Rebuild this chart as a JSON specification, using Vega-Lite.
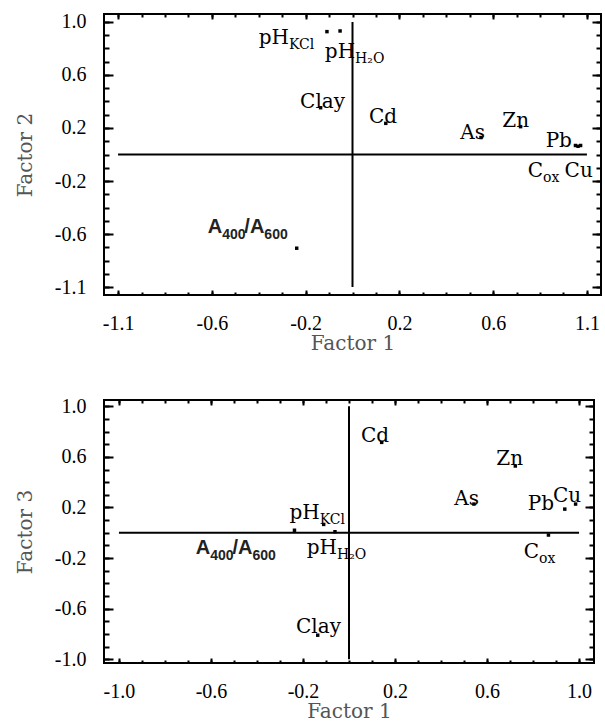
{
  "$schema": "https://vega.github.io/schema/vega-lite/v6.json",
  "background": "white",
  "padding": {"left": 14, "top": 10, "right": 0, "bottom": 0},
  "spacing": 41,
  "datasets": {
    "pts12": [
      {"var": "pH_KCl", "x": -0.109, "y": 0.927},
      {"var": "pH_H2O", "x": -0.053, "y": 0.932},
      {"var": "Clay", "x": -0.136, "y": 0.353},
      {"var": "Cd", "x": 0.142, "y": 0.235},
      {"var": "As", "x": 0.548, "y": 0.128},
      {"var": "Zn", "x": 0.717, "y": 0.21},
      {"var": "Pb", "x": 0.951, "y": 0.068},
      {"var": "Cu", "x": 0.973, "y": 0.068},
      {"var": "Cox", "x": 0.962, "y": 0.062},
      {"var": "A400/A600", "x": -0.238, "y": -0.707}
    ],
    "lab12": [
      {"var": "pH_KCl", "lx": -0.271, "ly": 0.835, "base": "pH", "sub": "KCl"},
      {"var": "pH_H2O", "lx": 0.011, "ly": 0.729, "base": "pH", "sub": "H₂O"},
      {"var": "Clay", "lx": -0.032, "ly": 0.353, "base": "Clay", "sub": ""},
      {"var": "Cd", "lx": 0.19, "ly": 0.24, "base": "Cd", "sub": ""},
      {"var": "As", "lx": 0.565, "ly": 0.12, "base": "As", "sub": ""},
      {"var": "Zn", "lx": 0.753, "ly": 0.21, "base": "Zn", "sub": ""},
      {"var": "Pb", "lx": 0.936, "ly": 0.053, "base": "Pb", "sub": ""},
      {"var": "Cu", "lx": 1.025, "ly": -0.173, "base": "Cu", "sub": ""},
      {"var": "Cox", "lx": 0.813, "ly": -0.173, "base": "C", "sub": "ox"},
      {"var": "A400/A600", "lx": -0.556, "ly": -0.594, "base": "A", "sub": "400"},
      {"var": "A400/A600", "lx": -0.376, "ly": -0.594, "base": "/A", "sub": "600"}
    ],
    "pts13": [
      {"var": "Cd", "x": 0.142, "y": 0.715},
      {"var": "Zn", "x": 0.723, "y": 0.528},
      {"var": "As", "x": 0.543, "y": 0.227},
      {"var": "Pb", "x": 0.938, "y": 0.187},
      {"var": "Cu", "x": 0.985, "y": 0.227},
      {"var": "Cox", "x": 0.867, "y": -0.018},
      {"var": "pH_KCl", "x": -0.11, "y": 0.066},
      {"var": "pH_H2O", "x": -0.061, "y": 0.008},
      {"var": "Clay", "x": -0.136, "y": -0.81},
      {"var": "A400/A600", "x": -0.237, "y": 0.02}
    ],
    "lab13": [
      {"var": "Cd", "lx": 0.174, "ly": 0.72, "base": "Cd", "sub": ""},
      {"var": "Zn", "lx": 0.757, "ly": 0.536, "base": "Zn", "sub": ""},
      {"var": "As", "lx": 0.565, "ly": 0.219, "base": "As", "sub": ""},
      {"var": "Pb", "lx": 0.891, "ly": 0.18, "base": "Pb", "sub": ""},
      {"var": "Cu", "lx": 1.009, "ly": 0.245, "base": "Cu", "sub": ""},
      {"var": "Cox", "lx": 0.826, "ly": -0.2, "base": "C", "sub": "ox"},
      {"var": "pH_KCl", "lx": -0.127, "ly": 0.106, "base": "pH", "sub": "KCl"},
      {"var": "pH_H2O", "lx": -0.052, "ly": -0.17, "base": "pH", "sub": "H₂O"},
      {"var": "Clay", "lx": -0.035, "ly": -0.79, "base": "Clay", "sub": ""},
      {"var": "A400/A600", "lx": -0.603, "ly": -0.17, "base": "A", "sub": "400"},
      {"var": "A400/A600", "lx": -0.42, "ly": -0.17, "base": "/A", "sub": "600"}
    ]
  },
  "vconcat": [
    {
      "width": 497,
      "height": 281,
      "resolve": {"axis": {"x": "independent", "y": "independent"}},
      "layer": [
        {
          "data": {"name": "pts12"},
          "mark": {"type": "point", "shape": "square", "filled": true, "size": 12, "color": "black", "opacity": 1},
          "encoding": {
            "x": {"field": "x", "type": "quantitative", "scale": {"domain": [-1.06, 1.06], "nice": false, "zero": false},
              "axis": {"orient": "bottom", "values": [-1, -0.6, -0.2, 0.2, 0.6, 1], "tickSize": -5, "labelPadding": 23, "title": "Factor 1", "titlePadding": 0,
                "labelExpr": "datum.value == 1 ? '1.1' : datum.value == -1 ? '-1.1' : (datum.value < 0 ? '-' : '') + format(abs(datum.value), '.1f')"}},
            "y": {"field": "y", "type": "quantitative", "scale": {"domain": [-1.06, 1.06], "nice": false, "zero": false},
              "axis": {"orient": "left", "values": [-1, -0.6, -0.2, 0.2, 0.6, 1], "tickSize": -9, "labelPadding": 27, "title": "Factor 2", "titlePadding": 19,
                "labelExpr": "datum.value == -1 ? '-1.1' : (datum.value < 0 ? '-' : '') + format(abs(datum.value), '.1f')"}}
          }
        },
        {
          "data": {"values": [{}]},
          "mark": {"type": "rule", "color": "black", "strokeWidth": 2},
          "encoding": {
            "x": {"datum": -1, "type": "quantitative", "scale": {"domain": [-1.06, 1.06], "nice": false, "zero": false},
              "axis": {"orient": "top", "values": [-1, -0.6, -0.2, 0.2, 0.6, 1], "tickSize": -5, "labels": false, "title": null}},
            "x2": {"datum": 1},
            "y": {"datum": 0, "type": "quantitative", "scale": {"domain": [-1.06, 1.06], "nice": false, "zero": false},
              "axis": {"orient": "right", "values": [-1, -0.6, -0.2, 0.2, 0.6, 1], "tickSize": -9, "labels": false, "title": null}}
          }
        },
        {
          "data": {"values": [{}]},
          "mark": {"type": "rule", "color": "black", "strokeWidth": 2},
          "encoding": {
            "x": {"datum": 0, "type": "quantitative", "scale": {"domain": [-1.06, 1.06], "nice": false, "zero": false},
              "axis": {"orient": "bottom", "values": [-1, -0.9, -0.8, -0.7, -0.6, -0.5, -0.4, -0.3, -0.2, -0.1, 0, 0.1, 0.2, 0.3, 0.4, 0.5, 0.6, 0.7, 0.8, 0.9, 1], "tickSize": -3, "labels": false, "title": null}},
            "y": {"datum": -1, "type": "quantitative", "scale": {"domain": [-1.06, 1.06], "nice": false, "zero": false},
              "axis": {"orient": "left", "values": [-1, -0.9, -0.8, -0.7, -0.6, -0.5, -0.4, -0.3, -0.2, -0.1, 0, 0.1, 0.2, 0.3, 0.4, 0.5, 0.6, 0.7, 0.8, 0.9, 1], "tickSize": -5, "labels": false, "title": null}},
            "y2": {"datum": 1}
          }
        },
        {
          "data": {"name": "lab12"},
          "transform": [{"filter": "datum.var != 'A400/A600'"}],
          "mark": {"type": "text", "align": "right", "baseline": "alphabetic", "font": "DejaVu Serif", "fontSize": 20, "color": "black"},
          "encoding": {
            "x": {"field": "lx", "type": "quantitative", "scale": {"domain": [-1.06, 1.06], "nice": false, "zero": false},
              "axis": {"orient": "top", "values": [-1, -0.9, -0.8, -0.7, -0.6, -0.5, -0.4, -0.3, -0.2, -0.1, 0, 0.1, 0.2, 0.3, 0.4, 0.5, 0.6, 0.7, 0.8, 0.9, 1], "tickSize": -3, "labels": false, "title": null}},
            "y": {"field": "ly", "type": "quantitative", "scale": {"domain": [-1.06, 1.06], "nice": false, "zero": false},
              "axis": {"orient": "right", "values": [-1, -0.9, -0.8, -0.7, -0.6, -0.5, -0.4, -0.3, -0.2, -0.1, 0, 0.1, 0.2, 0.3, 0.4, 0.5, 0.6, 0.7, 0.8, 0.9, 1], "tickSize": -5, "labels": false, "title": null}},
            "text": {"field": "base"}
          }
        },
        {
          "data": {"name": "lab12"},
          "transform": [{"filter": "datum.sub != '' && datum.var != 'A400/A600'"}],
          "mark": {"type": "text", "align": "left", "baseline": "alphabetic", "dy": 5, "font": "DejaVu Serif", "fontSize": 14, "color": "black"},
          "encoding": {
            "x": {"field": "lx", "type": "quantitative", "scale": {"domain": [-1.06, 1.06], "nice": false, "zero": false}, "axis": null},
            "y": {"field": "ly", "type": "quantitative", "scale": {"domain": [-1.06, 1.06], "nice": false, "zero": false}, "axis": null},
            "text": {"field": "sub"}
          }
        },
        {
          "data": {"name": "lab12"},
          "transform": [{"filter": "datum.var == 'A400/A600'"}],
          "mark": {"type": "text", "align": "right", "baseline": "alphabetic", "font": "Liberation Sans", "fontWeight": "bold", "fontSize": 20, "color": "#222222"},
          "encoding": {
            "x": {"field": "lx", "type": "quantitative", "scale": {"domain": [-1.06, 1.06], "nice": false, "zero": false}, "axis": null},
            "y": {"field": "ly", "type": "quantitative", "scale": {"domain": [-1.06, 1.06], "nice": false, "zero": false}, "axis": null},
            "text": {"field": "base"}
          }
        },
        {
          "data": {"name": "lab12"},
          "transform": [{"filter": "datum.var == 'A400/A600'"}],
          "mark": {"type": "text", "align": "left", "baseline": "alphabetic", "dy": 6, "font": "Liberation Sans", "fontWeight": "bold", "fontSize": 14, "color": "#222222"},
          "encoding": {
            "x": {"field": "lx", "type": "quantitative", "scale": {"domain": [-1.06, 1.06], "nice": false, "zero": false}, "axis": null},
            "y": {"field": "ly", "type": "quantitative", "scale": {"domain": [-1.06, 1.06], "nice": false, "zero": false}, "axis": null},
            "text": {"field": "sub"}
          }
        }
      ]
    },
    {
      "width": 490,
      "height": 263,
      "resolve": {"axis": {"x": "independent", "y": "independent"}},
      "layer": [
        {
          "data": {"name": "pts13"},
          "mark": {"type": "point", "shape": "square", "filled": true, "size": 12, "color": "black", "opacity": 1},
          "encoding": {
            "x": {"field": "x", "type": "quantitative", "scale": {"domain": [-1.065, 1.065], "nice": false, "zero": false},
              "axis": {"orient": "bottom", "values": [-1, -0.6, -0.2, 0.2, 0.6, 1], "tickSize": -5, "labelPadding": 23, "title": "Factor 1", "titlePadding": 0,
                "labelExpr": "(datum.value < 0 ? '-' : '') + format(abs(datum.value), '.1f')"}},
            "y": {"field": "y", "type": "quantitative", "scale": {"domain": [-1.03, 1.05], "nice": false, "zero": false},
              "axis": {"orient": "left", "values": [-1, -0.6, -0.2, 0.2, 0.6, 1], "tickSize": -9, "labelPadding": 27, "title": "Factor 3", "titlePadding": 19,
                "labelExpr": "(datum.value < 0 ? '-' : '') + format(abs(datum.value), '.1f')"}}
          }
        },
        {
          "data": {"values": [{}]},
          "mark": {"type": "rule", "color": "black", "strokeWidth": 2},
          "encoding": {
            "x": {"datum": -1, "type": "quantitative", "scale": {"domain": [-1.065, 1.065], "nice": false, "zero": false},
              "axis": {"orient": "top", "values": [-1, -0.6, -0.2, 0.2, 0.6, 1], "tickSize": -5, "labels": false, "title": null}},
            "x2": {"datum": 1},
            "y": {"datum": 0, "type": "quantitative", "scale": {"domain": [-1.03, 1.05], "nice": false, "zero": false},
              "axis": {"orient": "right", "values": [-1, -0.6, -0.2, 0.2, 0.6, 1], "tickSize": -9, "labels": false, "title": null}}
          }
        },
        {
          "data": {"values": [{}]},
          "mark": {"type": "rule", "color": "black", "strokeWidth": 2},
          "encoding": {
            "x": {"datum": 0, "type": "quantitative", "scale": {"domain": [-1.065, 1.065], "nice": false, "zero": false},
              "axis": {"orient": "bottom", "values": [-1, -0.9, -0.8, -0.7, -0.6, -0.5, -0.4, -0.3, -0.2, -0.1, 0, 0.1, 0.2, 0.3, 0.4, 0.5, 0.6, 0.7, 0.8, 0.9, 1], "tickSize": -3, "labels": false, "title": null}},
            "y": {"datum": -1, "type": "quantitative", "scale": {"domain": [-1.03, 1.05], "nice": false, "zero": false},
              "axis": {"orient": "left", "values": [-1, -0.9, -0.8, -0.7, -0.6, -0.5, -0.4, -0.3, -0.2, -0.1, 0, 0.1, 0.2, 0.3, 0.4, 0.5, 0.6, 0.7, 0.8, 0.9, 1], "tickSize": -5, "labels": false, "title": null}},
            "y2": {"datum": 1}
          }
        },
        {
          "data": {"name": "lab13"},
          "transform": [{"filter": "datum.var != 'A400/A600'"}],
          "mark": {"type": "text", "align": "right", "baseline": "alphabetic", "font": "DejaVu Serif", "fontSize": 20, "color": "black"},
          "encoding": {
            "x": {"field": "lx", "type": "quantitative", "scale": {"domain": [-1.065, 1.065], "nice": false, "zero": false},
              "axis": {"orient": "top", "values": [-1, -0.9, -0.8, -0.7, -0.6, -0.5, -0.4, -0.3, -0.2, -0.1, 0, 0.1, 0.2, 0.3, 0.4, 0.5, 0.6, 0.7, 0.8, 0.9, 1], "tickSize": -3, "labels": false, "title": null}},
            "y": {"field": "ly", "type": "quantitative", "scale": {"domain": [-1.03, 1.05], "nice": false, "zero": false},
              "axis": {"orient": "right", "values": [-1, -0.9, -0.8, -0.7, -0.6, -0.5, -0.4, -0.3, -0.2, -0.1, 0, 0.1, 0.2, 0.3, 0.4, 0.5, 0.6, 0.7, 0.8, 0.9, 1], "tickSize": -5, "labels": false, "title": null}},
            "text": {"field": "base"}
          }
        },
        {
          "data": {"name": "lab13"},
          "transform": [{"filter": "datum.sub != '' && datum.var != 'A400/A600'"}],
          "mark": {"type": "text", "align": "left", "baseline": "alphabetic", "dy": 5, "font": "DejaVu Serif", "fontSize": 14, "color": "black"},
          "encoding": {
            "x": {"field": "lx", "type": "quantitative", "scale": {"domain": [-1.065, 1.065], "nice": false, "zero": false}, "axis": null},
            "y": {"field": "ly", "type": "quantitative", "scale": {"domain": [-1.03, 1.05], "nice": false, "zero": false}, "axis": null},
            "text": {"field": "sub"}
          }
        },
        {
          "data": {"name": "lab13"},
          "transform": [{"filter": "datum.var == 'A400/A600'"}],
          "mark": {"type": "text", "align": "right", "baseline": "alphabetic", "font": "Liberation Sans", "fontWeight": "bold", "fontSize": 20, "color": "#222222"},
          "encoding": {
            "x": {"field": "lx", "type": "quantitative", "scale": {"domain": [-1.065, 1.065], "nice": false, "zero": false}, "axis": null},
            "y": {"field": "ly", "type": "quantitative", "scale": {"domain": [-1.03, 1.05], "nice": false, "zero": false}, "axis": null},
            "text": {"field": "base"}
          }
        },
        {
          "data": {"name": "lab13"},
          "transform": [{"filter": "datum.var == 'A400/A600'"}],
          "mark": {"type": "text", "align": "left", "baseline": "alphabetic", "dy": 6, "font": "Liberation Sans", "fontWeight": "bold", "fontSize": 14, "color": "#222222"},
          "encoding": {
            "x": {"field": "lx", "type": "quantitative", "scale": {"domain": [-1.065, 1.065], "nice": false, "zero": false}, "axis": null},
            "y": {"field": "ly", "type": "quantitative", "scale": {"domain": [-1.03, 1.05], "nice": false, "zero": false}, "axis": null},
            "text": {"field": "sub"}
          }
        }
      ]
    }
  ],
  "config": {
    "view": {"stroke": "black", "strokeWidth": 2},
    "axis": {
      "domain": false,
      "grid": false,
      "ticks": true,
      "tickColor": "black",
      "tickWidth": 2,
      "labelFont": "Liberation Serif",
      "labelFontSize": 20,
      "labelColor": "black",
      "labelFlush": false,
      "labelOverlap": false,
      "titleFont": "DejaVu Serif",
      "titleFontSize": 20,
      "titleFontWeight": "normal",
      "titleColor": "#555555"
    }
  }
}
